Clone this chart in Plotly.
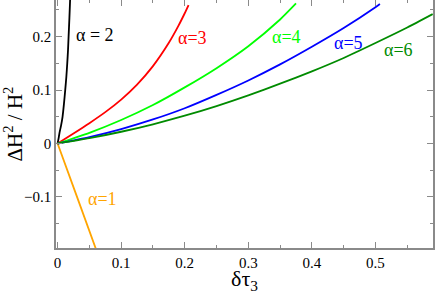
import plotly.graph_objects as go

# alpha = 1
x_a1 = [0.0, 0.03, 0.062]
y_a1 = [0.0, -0.098, -0.203]
# alpha = 2
x_a2 = [0.0, 0.0015, 0.003, 0.0055, 0.0078, 0.010, 0.012, 0.0138, 0.0152, 0.0164, 0.0173, 0.0186, 0.0198]
y_a2 = [0.0, 0.009, 0.020, 0.034, 0.050, 0.074, 0.100, 0.125, 0.150, 0.175, 0.200, 0.235, 0.272]
# alpha = 3
x_a3 = [0.0, 0.025, 0.05, 0.075, 0.1, 0.125, 0.15, 0.175, 0.19, 0.2, 0.206]
y_a3 = [0.0, 0.0188, 0.0381, 0.0587, 0.0822, 0.1102, 0.1448, 0.1884, 0.220, 0.2437, 0.259]
# alpha = 4
x_a4 = [0.0, 0.05, 0.1, 0.15, 0.2, 0.25, 0.3, 0.35, 0.375]
y_a4 = [0.0, 0.020, 0.044, 0.072, 0.105, 0.141, 0.182, 0.232, 0.262]
# alpha = 5
x_a5 = [0.0, 0.05, 0.1, 0.15, 0.2, 0.25, 0.3, 0.35, 0.4, 0.45, 0.5, 0.507]
y_a5 = [0.0, 0.012, 0.027, 0.045, 0.066, 0.091, 0.118, 0.148, 0.181, 0.216, 0.255, 0.261]
# alpha = 6
x_a6 = [0.0, 0.05, 0.1, 0.15, 0.2, 0.25, 0.3, 0.35, 0.4, 0.45, 0.5, 0.55, 0.59]
y_a6 = [0.0, 0.010, 0.022, 0.036, 0.052, 0.070, 0.090, 0.112, 0.135, 0.160, 0.188, 0.217, 0.242]

series = [
    (x_a1, y_a1, "#ffa500"),
    (x_a2, y_a2, "#000000"),
    (x_a3, y_a3, "#ff0000"),
    (x_a4, y_a4, "#00ff00"),
    (x_a5, y_a5, "#0000ff"),
    (x_a6, y_a6, "#008b00"),
]

labels = ["α=1", "α = 2", "α=3", "α=4", "α=5", "α=6"]
label_x = [0.0703, 0.026, 0.2115, 0.3606, 0.458, 0.536]
label_y = [-0.1037, 0.203, 0.197, 0.199, 0.188, 0.175]
label_anchor = ["center", "left", "center", "center", "center", "center"]
label_colors = ["#ffa500", "#000000", "#ff0000", "#00ff00", "#0000ff", "#008b00"]

FONT = "Liberation Serif"
AXC = "#8a8a8a"

fig = go.Figure()
for xs, ys, c in series:
    fig.add_trace(go.Scatter(x=xs, y=ys, mode="lines", line=dict(color=c, width=1.8, smoothing=0.6),
                             line_shape="spline", showlegend=False, hoverinfo="skip"))

for t, lx, ly, an, c in zip(labels, label_x, label_y, label_anchor, label_colors):
    fig.add_annotation(x=lx, y=ly, xref="x", yref="y", text=t, showarrow=False,
                       xanchor=an, yanchor="middle",
                       font=dict(family=FONT, size=18, color=c))

axis_common = dict(showgrid=False, zeroline=False, showline=True, linecolor=AXC, linewidth=1.5,
                   mirror="ticks", ticks="inside", ticklen=6, tickwidth=1, tickcolor=AXC,
                   automargin=False,
                   tickfont=dict(family=FONT, size=15, color="black"))

fig.update_xaxes(range=[-0.0025, 0.5905], tick0=0, dtick=0.1,
                 minor=dict(dtick=0.05, ticks="inside", ticklen=3, tickcolor=AXC),
                 title=dict(text="δτ<sub>3</sub>", font=dict(family=FONT, size=22, color="black"), standoff=2),
                 **axis_common)
fig.update_yaxes(range=[-0.1955, 0.2685], tick0=0, dtick=0.1,
                 minor=dict(dtick=0.05, ticks="inside", ticklen=3, tickcolor=AXC),
                 title=dict(text="ΔH<sup>2</sup> / H<sup>2</sup>", font=dict(family=FONT, size=21, color="black"), standoff=4),
                 **axis_common)

fig.update_layout(width=436, height=294, margin=dict(l=56, r=3, t=0, b=46),
                  plot_bgcolor="white", paper_bgcolor="white",
                  font=dict(family=FONT))

fig.write_html("out.html", config={"displayModeBar": False},
               post_script="document.body.style.margin='0';document.body.style.overflow='hidden';")
